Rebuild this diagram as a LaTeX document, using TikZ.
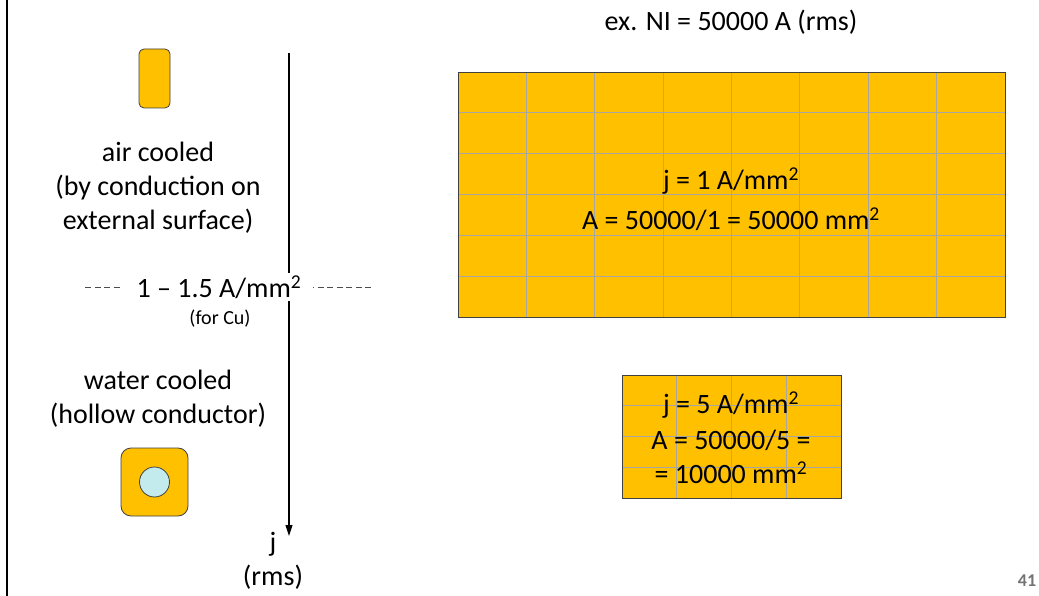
\documentclass[tikz,border=0pt]{standalone}
\usepackage{fontspec}
\setmainfont{Carlito}
\usetikzlibrary{arrows.meta}
\definecolor{cu}{HTML}{FFC000}
\definecolor{water}{HTML}{C3EAEC}
\definecolor{gridc}{HTML}{A6A6A6}
\definecolor{edge}{HTML}{404040}
\newcommand{\sqtwo}{\textsuperscript{2}}
\begin{document}
\begin{tikzpicture}[x=1pt,y=-1pt,
  txt/.style={font=\fontsize{28}{34}\selectfont, align=center, inner sep=0pt},
  smalltxt/.style={font=\fontsize{20}{24}\selectfont, align=center, inner sep=0pt},
  conductor/.style={draw=edge, fill=cu, line width=0.8pt},
  gridline/.style={draw=gridc, line width=0.8pt},
  dashline/.style={draw=black!70, line width=0.7pt, dash pattern=on 6pt off 3.5pt},
  axis/.style={draw=black, line width=1.1pt, -{Triangle[length=11pt,width=7pt]}}]
\useasboundingbox (0,0) rectangle (1039,596);
% left border
\coordinate (bt) at (7,0);
\coordinate (bb) at (7,596);
\draw[line width=1.4pt] (bt) -- (bb);

% air-cooled conductor
\node[conductor, rounded corners=5pt, minimum width=31pt, minimum height=59pt, inner sep=0pt] (air) at (154.5,78.5) {};
\node[txt] (airtxt) at (158,188) {air cooled\\(by conduction on\\external surface)};

% water-cooled conductor
\node[conductor, rounded corners=10pt, minimum width=67pt, minimum height=68pt, inner sep=0pt] (hollow) at (154.5,482) {};
\node[draw=edge, fill=water, line width=0.8pt, circle, minimum size=30pt, inner sep=0pt] (hole) at (hollow.center) {};
\node[txt] (watertxt) at (158,399) {water cooled\\(hollow conductor)};

% current density axis
\coordinate (jtop) at (289,53);
\coordinate (jend) at (289,536);
\draw[axis] (jtop) -- (jend);
\node[txt, fill=white, inner ysep=3pt, inner xsep=0pt] (lim) at (219,287) {1 -- 1.5 A/mm\sqtwo};
\node[smalltxt] (cu) at (220,319) {(for Cu)};
\coordinate (dl1) at (85,287);
\coordinate (dl2) at (122,287);
\coordinate (dr1) at (313,287);
\coordinate (dr2) at (373,287);
\draw[dashline] (dl1) -- (dl2);
\draw[dashline, dash phase=5pt] (dr1) -- (dr2);
\node[txt] (jlab) at (273,561) {j\\(rms)};

% title
\node[txt] (title) at (731,22) {ex. NI = 50000 A (rms)};

% big conductor, j = 1
\node[fill=cu, minimum width=547pt, minimum height=245pt, inner sep=0pt, anchor=north west] (big) at (458,72) {};
\foreach \i in {1,...,7} \draw[gridline] (458+\i*68.375,72) -- (458+\i*68.375,317);
\foreach \i in {1,...,5} \draw[gridline] (458,72+\i*40.833) -- (1005,72+\i*40.833);
\draw[edge, line width=0.9pt] (big.north west) rectangle (big.south east);
\node[txt] (bigtxt) at (731,199) {j = 1 A/mm\sqtwo\\[6pt]A = 50000/1 = 50000 mm\sqtwo};

% small conductor, j = 5
\node[fill=cu, minimum width=219pt, minimum height=123pt, inner sep=0pt, anchor=north west] (small) at (622,375) {};
\foreach \i in {1,...,3} \draw[gridline] (622+\i*54.75,375) -- (622+\i*54.75,498);
\foreach \i in {1,...,3} \draw[gridline] (622,375+\i*30.75) -- (841,375+\i*30.75);
\draw[edge, line width=0.9pt] (small.north west) rectangle (small.south east);
\node[txt] (smalltxt) at (731,438) {j = 5 A/mm\sqtwo\\[2pt]A = 50000/5 =\\= 10000 mm\sqtwo};

% page number
\node[font=\fontsize{18}{20}\selectfont\bfseries, text=black!55, inner sep=0pt] (page) at (1027,581) {41};
\end{tikzpicture}
\end{document}
